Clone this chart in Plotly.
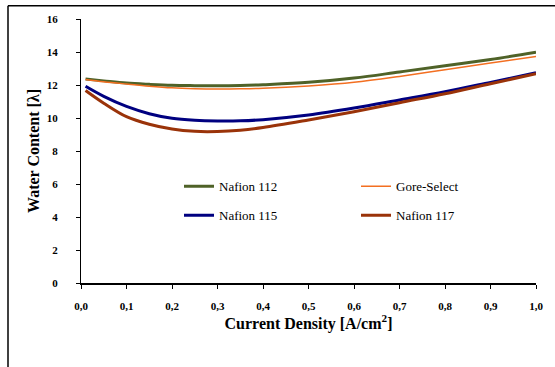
import plotly.graph_objects as go

current_density = [0.01, 0.05, 0.1, 0.15, 0.2, 0.25, 0.3, 0.35, 0.4, 0.5, 0.6, 0.7, 0.8, 0.9, 1.0]
nafion112 = [12.36, 12.25, 12.12, 12.04, 11.98, 11.96, 11.95, 11.97, 12.02, 12.16, 12.42, 12.79, 13.17, 13.55, 13.98]
gore_select = [12.34, 12.2, 12.06, 11.93, 11.83, 11.78, 11.76, 11.77, 11.8, 11.94, 12.16, 12.52, 12.93, 13.33, 13.73]
nafion115 = [11.92, 11.31, 10.7, 10.26, 9.98, 9.86, 9.82, 9.83, 9.9, 10.18, 10.6, 11.09, 11.59, 12.16, 12.74]
nafion117 = [11.67, 10.9, 10.08, 9.62, 9.33, 9.19, 9.18, 9.26, 9.42, 9.88, 10.38, 10.93, 11.47, 12.08, 12.68]

x_ticks = [0.0, 0.1, 0.2, 0.3, 0.4, 0.5, 0.6, 0.7, 0.8, 0.9, 1.0]
y_ticks = [0, 2, 4, 6, 8, 10, 12, 14, 16]

FONT = "Liberation Serif"

fig = go.Figure()
series = [
    ("Nafion 112", nafion112, "#4F6228", 3, "legend"),
    ("Gore-Select", gore_select, "#F36F21", 1.5, "legend"),
    ("Nafion 115", nafion115, "#000080", 3, "legend2"),
    ("Nafion 117", nafion117, "#9A3309", 3, "legend2"),
]
for name, vals, color, w, lg in series:
    fig.add_trace(go.Scatter(
        x=current_density, y=vals, name=name, mode="lines",
        line=dict(color=color, width=w, shape="spline", smoothing=1.0),
        legend=lg,
    ))

legend_common = dict(
    orientation="h", entrywidth=132, entrywidthmode="pixels",
    bgcolor="rgba(0,0,0,0)", font=dict(family=FONT, size=13, color="black"),
    xanchor="left", yanchor="middle", x=0.2154,
)

fig.update_layout(
    width=555, height=367,
    margin=dict(l=81, r=19, t=19, b=84),
    paper_bgcolor="white", plot_bgcolor="white",
    separators=", ",
    font=dict(family=FONT, color="black"),
    legend=dict(legend_common, y=0.366),
    legend2=dict(legend_common, y=0.256),
    xaxis=dict(
        range=[0, 1], tickvals=x_ticks, tickformat=".1f",
        showline=True, linecolor="black", linewidth=2,
        ticks="outside", ticklen=4, tickcolor="black", tickwidth=1,
        showgrid=False, zeroline=False,
        tickfont=dict(family=FONT, size=11, weight="bold"),
        ticklabelstandoff=8,
        title=dict(text="<b>Current Density [A/cm<sup>2</sup>]</b>",
                   font=dict(family=FONT, size=16), standoff=4),
    ),
    yaxis=dict(
        range=[0, 16], tickvals=y_ticks,
        showline=True, linecolor="black", linewidth=1,
        ticks="outside", ticklen=4, tickcolor="black", tickwidth=1,
        showgrid=False, zeroline=False,
        tickfont=dict(family=FONT, size=11, weight="bold"),
        ticklabelstandoff=16,
        title=dict(text="<b>Water Content [λ]</b>",
                   font=dict(family=FONT, size=16), standoff=3),
    ),
    shapes=[
        dict(type="line", xref="paper", yref="paper", x0=-73/455, x1=1.05, y0=(283.3-6)/264, y1=(283.3-6)/264,
             line=dict(color="black", width=1.5)),
        dict(type="line", xref="paper", yref="paper", x0=-73/455, x1=-73/455, y0=-0.4, y1=(283.3-6)/264,
             line=dict(color="black", width=1.5)),
    ],
)

fig.write_html("out.html")
